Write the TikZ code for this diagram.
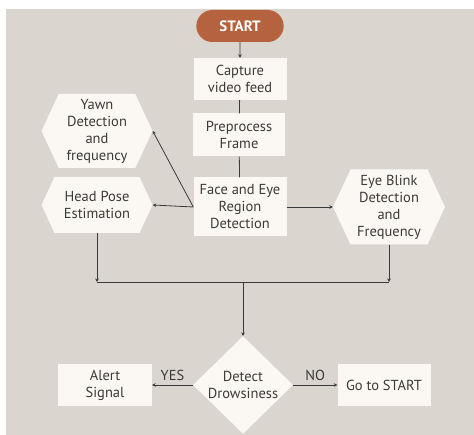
\documentclass[tikz,border=0pt]{standalone}
\usepackage{fontspec}
\setmainfont{PT Sans}
\usetikzlibrary{arrows.meta, shapes.geometric, shapes.symbols, shapes.misc}
\definecolor{paper}{HTML}{DAD6CF}
\definecolor{boxfill}{HTML}{FBF8F3}
\definecolor{startfill}{HTML}{B5633F}
\definecolor{ink}{HTML}{3A3A3A}

\begin{document}
\begin{tikzpicture}
	[%
	x=1pt, y=-1pt,%
	every node/.style={font=\fontsize{14.5}{17}\selectfont, text=ink},%
	terminal/.style ={rounded rectangle,	fill=startfill,	text=white,	font=\fontsize{15}{17}\selectfont\bfseries,	minimum width=94pt,	minimum height=32pt},%
	process/.style ={rectangle,	fill=boxfill,	align=center,	inner sep=0pt,	minimum width=93pt,	minimum height=42pt},%
	prepare/.style ={signal,	signal to=east and west,	signal pointer angle=130,	fill=boxfill,	align=center,	inner sep=0pt,	minimum width=111pt},%
	decision/.style ={diamond,	fill=boxfill,	align=center,	inner sep=0pt,	minimum width=100pt,	minimum height=96pt},%
	link/.style ={draw=ink,	line width=0.8pt},%
	arrow/.style ={link,	-{Stealth[length=3.5pt,width=3.5pt]}},%
	]

	% background
	\fill[white] (0,0) rectangle (474,435);
	\fill[paper] (6,9) rectangle (474,435);
	\useasboundingbox (0,0) rectangle (474,435);

	% nodes
	% main column
	\node (start) at (240,26) [terminal] {START};
	\node (capture) at (240,79) [process] {Capture\\video feed};
	\node (preproc) at (239,135) [process, minimum width=92pt, minimum height=43pt] {Preprocess\\Frame};
	\node (face) at (240,207) [process, minimum height=59pt] {Face and Eye\\Region\\Detection};
	% side hexagons
	\node (yawn) at (97,131) [prepare, minimum height=74pt] {Yawn\\Detection\\and\\frequency};
	\node (head) at (97,205) [prepare, minimum height=56pt] {Head Pose\\Estimation};
	\node (blink) at (389,207) [prepare, minimum width=112pt, minimum height=75pt] {Eye Blink\\Detection\\and\\Frequency};
	% decision
	\node (drowsy) at (243,385) [decision] {Detect\\Drowsiness};
	\node (alert) at (105,385) [process, minimum width=94pt] {Alert\\Signal};
	\node (goto) at (384,385) [process] {Go to START};
	% junctions
	\coordinate (join) at (243,282);

	% interconnections
	\draw [arrow] (start) -- (capture);
	\foreach \i/\o in {capture/preproc, preproc/face}
		\draw [link] (\i) -- (\o);

	\foreach \o in {yawn, head}
		\draw [arrow] (face.west) -- (\o.east);
	\draw [arrow] (face.east) -- (blink.west);

	% merge into decision
	\foreach \i in {head, blink}
		\draw [arrow] (\i.south) -- (\i.south |- join);
	\draw [link] (head.south |- join) -- (blink.south |- join);
	\draw [arrow] (join) -- (drowsy.north);

	\draw [arrow] (drowsy.west) -- node [above=1pt] {YES} (alert.east);
	\draw [arrow] (drowsy.east) -- node [above=1pt] {NO} (goto.west);

\end{tikzpicture}
\end{document}
